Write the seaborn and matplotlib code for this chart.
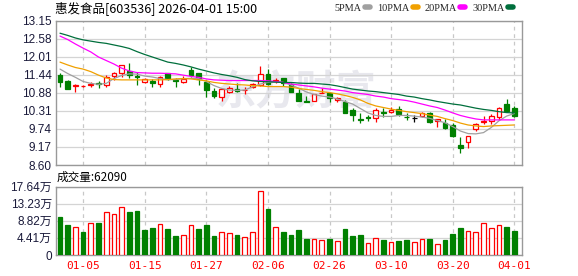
import matplotlib
matplotlib.use("Agg")
import matplotlib.pyplot as plt
import seaborn as sns
import pandas as pd
from matplotlib.lines import Line2D

# ---------------- data ----------------
dates = ["12-29", "12-30", "12-31", "01-05", "01-06", "01-07", "01-08", "01-09", "01-12", "01-13",
         "01-14", "01-15", "01-16", "01-19", "01-20", "01-21", "01-22", "01-23", "01-26", "01-27",
         "01-28", "01-29", "01-30", "02-02", "02-03", "02-04", "02-05", "02-06", "02-09", "02-10",
         "02-11", "02-12", "02-13", "02-24", "02-25", "02-26", "02-27", "03-02", "03-03", "03-04",
         "03-05", "03-06", "03-09", "03-10", "03-11", "03-12", "03-13", "03-16", "03-17", "03-18",
         "03-19", "03-20", "03-23", "03-24", "03-25", "03-26", "03-27", "03-30", "03-31", "04-01"]

open_ = [11.43, 11.25, 11.09, 11.08, 11.13, 11.18, 11.12, 11.41, 11.49, 11.57,
         11.39, 11.22, 11.25, 11.14, 11.49, 11.28, 11.22, 11.59, 11.49, 11.22,
         10.93, 10.75, 10.91, 10.99, 10.95, 11.05, 11.12, 11.47, 11.26, 11.33,
         11.14, 10.88, 10.60, 10.62, 10.87, 10.88, 10.65, 10.59, 10.33, 10.05,
         10.11, 10.07, 10.26, 10.28, 10.35, 10.11, 10.07, 10.14, 10.23, 10.00,
         9.93, 9.86, 9.23, 9.33, 9.72, 9.95, 10.00, 10.10, 10.52, 10.39]
high = [11.49, 11.28, 11.15, 11.12, 11.22, 11.25, 11.43, 11.54, 11.75, 11.80,
        11.54, 11.35, 11.30, 11.40, 11.51, 11.35, 11.40, 11.68, 11.51, 11.28,
        11.02, 10.98, 11.09, 11.17, 11.07, 11.19, 11.72, 11.61, 11.33, 11.33,
        11.17, 10.98, 10.78, 10.83, 11.02, 10.91, 10.75, 10.65, 10.39, 10.23,
        10.17, 10.39, 10.39, 10.42, 10.46, 10.23, 10.17, 10.28, 10.26, 10.04,
        10.04, 9.93, 9.47, 9.51, 9.93, 10.14, 10.20, 10.44, 10.67, 10.46]
low = [11.07, 10.98, 10.91, 11.05, 11.07, 11.02, 11.05, 11.28, 11.38, 11.33,
       11.12, 11.19, 11.07, 11.07, 11.28, 11.07, 11.17, 11.38, 11.12, 10.75,
       10.70, 10.62, 10.86, 10.91, 10.84, 11.02, 11.09, 11.12, 11.19, 11.09,
       10.91, 10.62, 10.59, 10.62, 10.86, 10.59, 10.59, 10.23, 10.00, 9.91,
       10.00, 9.96, 10.11, 10.25, 10.14, 10.02, 9.96, 10.10, 9.93, 9.81,
       9.72, 9.47, 8.99, 9.13, 9.68, 9.88, 9.88, 10.02, 10.28, 10.12]
close = [11.22, 10.99, 11.13, 11.09, 11.16, 11.16, 11.38, 11.49, 11.75, 11.43,
         11.37, 11.30, 11.17, 11.38, 11.30, 11.25, 11.30, 11.43, 11.30, 10.96,
         10.78, 10.98, 11.02, 10.93, 10.97, 11.15, 11.47, 11.14, 11.28, 11.17,
         10.91, 10.62, 10.59, 10.83, 10.88, 10.70, 10.72, 10.23, 10.17, 10.03,
         10.09, 10.33, 10.23, 10.33, 10.20, 10.10, 10.07, 10.23, 9.96, 10.04,
         9.77, 9.51, 9.13, 9.51, 9.88, 9.97, 10.14, 10.39, 10.31, 10.15]

ma5 = [11.62, 11.48, 11.36, 11.23, 11.17, 11.14, 11.17, 11.32, 11.42, 11.47,
       11.46, 11.40, 11.37, 11.32, 11.29, 11.29, 11.32, 11.33, 11.32, 11.23,
       11.10, 11.01, 10.96, 10.95, 10.96, 11.06, 11.15, 11.20, 11.22, 11.20,
       11.12, 11.02, 10.90, 10.82, 10.77, 10.74, 10.68, 10.60, 10.52, 10.38,
       10.24, 10.16, 10.13, 10.13, 10.16, 10.16, 10.14, 10.11, 10.07, 10.00,
       9.93, 9.81, 9.67, 9.59, 9.58, 9.62, 9.78, 9.99, 10.14, 10.22]
ma10 = [11.84, 11.75, 11.67, 11.62, 11.54, 11.43, 11.34, 11.29, 11.28, 11.28,
        11.28, 11.28, 11.28, 11.28, 11.29, 11.31, 11.32, 11.31, 11.28, 11.25,
        11.20, 11.17, 11.15, 11.13, 11.12, 11.10, 11.09, 11.07, 11.07, 11.07,
        11.05, 11.01, 10.98, 10.95, 10.91, 10.88, 10.84, 10.79, 10.73, 10.65,
        10.54, 10.46, 10.41, 10.36, 10.32, 10.28, 10.25, 10.22, 10.17, 10.13,
        10.06, 10.00, 9.92, 9.86, 9.83, 9.81, 9.83, 9.84, 9.85, 9.86]
ma20 = [12.66, 12.55, 12.41, 12.28, 12.16, 12.00, 11.89, 11.78, 11.65, 11.56,
        11.51, 11.50, 11.49, 11.49, 11.48, 11.47, 11.43, 11.39, 11.36, 11.31,
        11.28, 11.27, 11.26, 11.26, 11.26, 11.26, 11.26, 11.25, 11.23, 11.20,
        11.15, 11.12, 11.09, 11.06, 11.02, 10.99, 10.96, 10.93, 10.88, 10.85,
        10.82, 10.77, 10.74, 10.69, 10.66, 10.63, 10.58, 10.52, 10.46, 10.41,
        10.33, 10.24, 10.16, 10.10, 10.05, 10.02, 10.02, 10.02, 10.02, 10.02]
ma30 = [12.75, 12.68, 12.60, 12.54, 12.50, 12.46, 12.43, 12.38, 12.33, 12.27,
        12.17, 12.08, 12.00, 11.92, 11.84, 11.80, 11.75, 11.69, 11.62, 11.56,
        11.50, 11.45, 11.41, 11.36, 11.29, 11.25, 11.23, 11.22, 11.21, 11.20,
        11.20, 11.18, 11.17, 11.17, 11.15, 11.13, 11.09, 11.04, 10.99, 10.96,
        10.93, 10.91, 10.88, 10.85, 10.82, 10.77, 10.74, 10.69, 10.65, 10.60,
        10.56, 10.52, 10.49, 10.44, 10.39, 10.35, 10.32, 10.28, 10.25, 10.24]

# volume in 万 (10k shares)
volume = [9.87, 7.73, 7.21, 6.01, 8.15, 8.15, 10.99, 10.47, 12.27, 10.99,
          11.33, 6.44, 7.04, 7.90, 6.70, 4.89, 5.15, 7.73, 6.70, 7.73,
          4.89, 5.84, 5.58, 5.15, 4.64, 5.84, 16.48, 11.85, 7.21, 5.84,
          5.15, 6.44, 4.12, 4.12, 3.86, 4.12, 3.61, 6.70, 4.89, 5.15,
          3.00, 4.29, 3.86, 3.26, 3.61, 3.86, 3.26, 4.03, 4.12, 2.75,
          3.86, 5.41, 7.04, 6.18, 5.84, 8.15, 6.87, 7.73, 7.21, 6.209]
vol_dir = list("GGRGRGRRRGGGGRGGRRGGGRRGRRRGRGG" "GGRRGRGGGRRGRGGRRGRGGGRRRRRGG")

price_ticks = [8.60, 9.17, 9.74, 10.31, 10.88, 11.44, 12.01, 12.58, 13.15]
vol_ticks = [0, 4.41, 8.82, 13.23, 17.64]
vol_tick_labels = ["0", "4.41万", "8.82万", "13.23万", "17.64万"]
date_ticks = ["01-05", "01-15", "01-27", "02-06", "02-26", "03-10", "03-20", "04-01"]

title = "惠发食品[603536] 2026-04-01 15:00"
vol_title = "成交量:62090"
ma_names = ["5PMA", "10PMA", "20PMA", "30PMA"]

# ---------------- style ----------------
sns.set_style("white")
plt.rcParams['font.family'] = ['Liberation Sans', 'Noto Sans CJK SC', 'DejaVu Sans']

RED = "#ff0000"
GREEN = "#008000"
MA_COLORS = ["#a0a0a0", "#f0a000", "#ff00ff", "#006f3c"]
FRAME = "#999999"
GRID = "#d4d4d4"
LABEL = "#1a1a3a"

W, H = 578, 276
fig = plt.figure(figsize=(W / 100, H / 100), dpi=100)
ax = fig.add_axes([56 / W, 1 - 165 / H, 466 / W, 144.5 / H])
axv = fig.add_axes([56 / W, 1 - 255 / H, 466 / W, 68.5 / H])

n = len(dates)
xs = list(range(n))
df = pd.DataFrame({"x": xs, "open": open_, "high": high, "low": low, "close": close,
                   "ma5": ma5, "ma10": ma10, "ma20": ma20, "ma30": ma30,
                   "vol": volume, "vdir": vol_dir})
tick_pos = [dates.index(d) for d in date_ticks]
XL = (-0.52, 60.0)

for a in (ax, axv):
    a.set_xlim(*XL)
    for s in a.spines.values():
        s.set_color(FRAME)
        s.set_linewidth(1.0)
    a.grid(axis="y", color=GRID, lw=0.9, ls="-")
    a.set_xticks(tick_pos)
    a.grid(axis="x", color="#c8c8c8", lw=0.9, ls=(0, (3, 3)))
    a.tick_params(length=0, labelsize=8.5, labelcolor=LABEL, pad=3)
    a.set_axisbelow(True)

# price panel
ax.set_ylim(8.60, 13.15)
ax.set_yticks(price_ticks)
ax.set_yticklabels([f"{v:.2f}" for v in price_ticks])
ax.set_xticklabels([])

ax.text(0.515, 0.50, "东方财富", transform=ax.transAxes, ha="center", va="center",
        fontsize=29, fontweight="bold", color="#e8e8ee", family=["Noto Sans CJK SC"], zorder=0)

BW = 0.62
for r in df.itertuples():
    top, bot = max(r.open, r.close), min(r.open, r.close)
    if r.close > r.open:
        col, fc = RED, "white"
    elif r.close < r.open:
        col, fc = GREEN, GREEN
    else:
        col, fc = "black", "black"
    ax.vlines(r.x, top, r.high, color=col, lw=0.9, zorder=3)
    ax.vlines(r.x, r.low, bot, color=col, lw=0.9, zorder=3)
    if top - bot > 0.005:
        ax.bar(r.x, top - bot, bottom=bot, width=BW, facecolor=fc, edgecolor=col, lw=0.9, zorder=4)
    else:
        ax.hlines(top, r.x - BW / 2, r.x + BW / 2, color=col, lw=0.9, zorder=4)

for col_name, c in zip(["ma5", "ma10", "ma20", "ma30"], MA_COLORS):
    sns.lineplot(data=df, x="x", y=col_name, ax=ax, color=c, lw=0.9, zorder=5)
ax.set_xlabel("")
ax.set_ylabel("")

# volume panel
axv.set_ylim(0, 17.64)
axv.set_yticks(vol_ticks)
axv.set_yticklabels(vol_tick_labels)
for r in df.itertuples():
    if r.vdir == "R":
        axv.bar(r.x, r.vol, width=BW, facecolor="white", edgecolor=RED, lw=0.9, zorder=3)
    else:
        axv.bar(r.x, r.vol, width=BW, facecolor=GREEN, edgecolor=GREEN, lw=0.9, zorder=3)
axv.set_xticklabels(date_ticks, color=RED, fontsize=8, family=["DejaVu Sans Mono"])
axv.tick_params(axis="x", pad=4)

# texts
fig.text(55 / W, 1 - 8 / H, title, ha="left", va="center", fontsize=9,
         family=["Noto Sans CJK SC", "DejaVu Sans"], color="black")
fig.text(57 / W, 1 - 177.5 / H, vol_title, ha="left", va="center", fontsize=8.4,
         family=["Noto Sans CJK SC", "DejaVu Sans"], color="black")

handles = [Line2D([], [], color=c, lw=4) for c in MA_COLORS]
fig.legend(handles, ma_names, loc="center right", bbox_to_anchor=(513 / W, 1 - 8 / H),
           ncol=4, frameon=False, markerfirst=False, handlelength=0.5, handletextpad=0.3,
           columnspacing=0.7, borderaxespad=0, borderpad=0,
           prop={"family": "Liberation Serif", "size": 7.4})

fig.savefig("out.png", dpi=100)
